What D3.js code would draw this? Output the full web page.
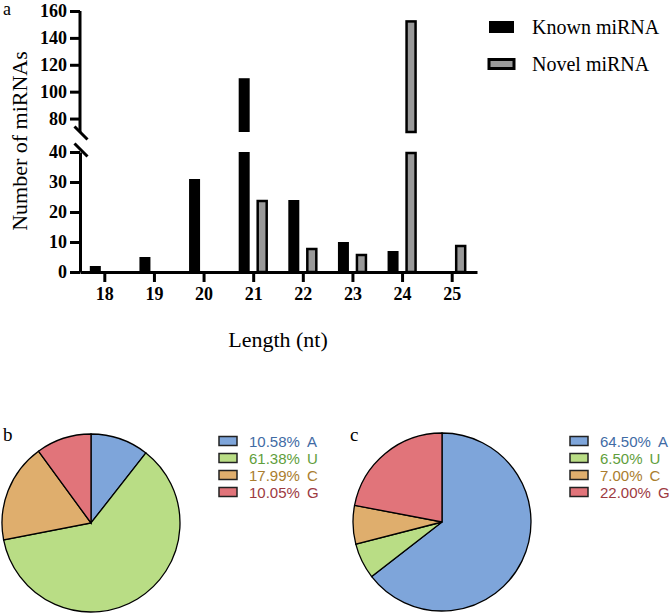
<!DOCTYPE html>
<html>
<head>
<meta charset="utf-8">
<script src="https://cdn.jsdelivr.net/npm/d3@7"></script>
<style>
  body { margin: 0; background: #fff; }
  svg { display: block; }
</style>
</head>
<body>
<div id="container"></div>
<script>
// chart data
var lengths = ["18", "19", "20", "21", "22", "23", "24", "25"];
var knownCounts = [2, 5, 31, 110, 24, 10, 7, 0];
var novelCounts = [0, 0, 0, 24, 8, 6, 153, 9];
var seriesNames = ["Known miRNA", "Novel miRNA"];

var upperTicks = [80, 100, 120, 140, 160];
var lowerTicks = [0, 10, 20, 30, 40];

var bases = ["A", "U", "C", "G"];
var knownBasePct = [10.58, 61.38, 17.99, 10.05];
var novelBasePct = [64.50, 6.50, 7.00, 22.00];

var pieFill = ["#7ea5da", "#b9dd85", "#dfae6d", "#e1747a"];
var textFill = ["#3f6ba5", "#5f9e3c", "#aa7d2e", "#9d3a3f"];

var W = 669, H = 615;
var svg = d3.select("#container").append("svg")
	.attr("width", W)
	.attr("height", H);

// ---------- panel a : bar chart with broken y axis ----------
var x = d3.scaleBand().domain(lengths).range([80, 477]).padding(0);
var yUp = d3.scaleLinear().domain([70, 160]).range([132, 11]);
var yLo = d3.scaleLinear().domain([0, 40]).range([272, 152]);
var breakLo = 40, breakHi = 70;

var serif = "'Liberation Serif', 'Times New Roman', serif";

var gA = svg.append("g");

// bars
function barPieces(v) {
	if (v <= breakLo) return [[yLo(v), yLo(0)]];
	return [[yUp(v), yUp(breakHi)], [yLo(breakLo), yLo(0)]];
}

lengths.forEach(function(l, i) {
	var cx = x(l) + x.bandwidth() / 2;
	barPieces(knownCounts[i]).forEach(function(p) {
		if (knownCounts[i] <= 0) return;
		gA.append("rect")
			.attr("x", cx - 15)
			.attr("y", p[0])
			.attr("width", 11)
			.attr("height", p[1] - p[0])
			.attr("fill", "#000");
	});
	barPieces(novelCounts[i]).forEach(function(p) {
		if (novelCounts[i] <= 0) return;
		gA.append("rect")
			.attr("x", cx + 4)
			.attr("y", p[0] + 1)
			.attr("width", 9)
			.attr("height", p[1] - p[0] - 1)
			.attr("fill", "#999")
			.attr("stroke", "#000")
			.attr("stroke-width", 2.5);
	});
});

// y axes
var axUp = gA.append("g")
	.attr("transform", "translate(80,0)")
	.call(d3.axisLeft(yUp).tickValues(upperTicks).tickSize(10).tickSizeOuter(0).tickPadding(3));
var axLo = gA.append("g")
	.attr("transform", "translate(80,0)")
	.call(d3.axisLeft(yLo).tickValues(lowerTicks).tickSize(10).tickSizeOuter(0).tickPadding(3));

// x axis
var axX = gA.append("g")
	.attr("transform", "translate(0,272)")
	.call(d3.axisBottom(x).tickSize(10).tickSizeOuter(0).tickPadding(5));

[axUp, axLo, axX].forEach(function(a) {
	a.selectAll("path, line").attr("stroke", "#000").attr("stroke-width", 3);
	a.selectAll("text")
		.attr("fill", "#000")
		.style("font-family", serif)
		.style("font-weight", "bold")
		.style("font-size", "18px");
});
axUp.select(".domain").attr("d", "M0," + yUp(160) + "V" + yUp(breakHi));

// break marks
[yUp(breakHi) + 1, yLo(breakLo) - 2].forEach(function(yy) {
	gA.append("line")
		.attr("x1", 74.5).attr("y1", yy - 6.5)
		.attr("x2", 87.5).attr("y2", yy + 6.5)
		.attr("stroke", "#000")
		.attr("stroke-width", 3);
});

// axis titles
gA.append("text")
	.attr("transform", "translate(27,141) rotate(-90)")
	.attr("text-anchor", "middle")
	.style("font-family", serif)
	.style("font-size", "22px")
	.text("Number of miRNAs");

gA.append("text")
	.attr("x", 278)
	.attr("y", 347)
	.attr("text-anchor", "middle")
	.style("font-family", serif)
	.style("font-size", "22px")
	.text("Length (nt)");

gA.append("text")
	.attr("x", 3)
	.attr("y", 15)
	.style("font-family", serif)
	.style("font-size", "18px")
	.text("a");

// legend a
var legA = gA.selectAll(".legA").data(seriesNames).enter()
	.append("g")
	.attr("class", "legA")
	.attr("transform", function(d, i) { return "translate(489," + (21 + i * 37) + ")"; });
legA.append("rect")
	.attr("width", 25)
	.attr("height", function(d, i) { return i === 0 ? 12 : 9; })
	.attr("y", function(d, i) { return i === 0 ? 0 : 1.5; })
	.attr("fill", function(d, i) { return i === 0 ? "#000" : "#999"; })
	.attr("stroke", "#000")
	.attr("stroke-width", function(d, i) { return i === 0 ? 0 : 3; });
legA.append("text")
	.attr("x", 43)
	.attr("y", 13)
	.style("font-family", serif)
	.style("font-size", "20px")
	.text(function(d) { return d; });

// ---------- panels b and c : pies ----------
var pie = d3.pie().sort(null).value(function(d) { return d; });
var arc = d3.arc().innerRadius(0).outerRadius(89);

function drawPie(values, cx, cy, letter, letterX, legX) {
	var g = svg.append("g").attr("transform", "translate(" + cx + "," + cy + ")");
	g.selectAll("path").data(pie(values)).enter()
		.append("path")
		.attr("d", arc)
		.attr("fill", function(d, i) { return pieFill[i]; })
		.attr("stroke", "#000")
		.attr("stroke-width", 1.3);

	svg.append("text")
		.attr("x", letterX)
		.attr("y", 441)
		.style("font-family", serif)
		.style("font-size", "19px")
		.text(letter);

	var leg = svg.selectAll(".leg" + letter).data(values).enter()
		.append("g")
		.attr("class", "leg" + letter)
		.attr("transform", function(d, i) { return "translate(" + legX + "," + (441 + i * 17) + ")"; });
	leg.append("rect")
		.attr("x", 0)
		.attr("y", -4.5)
		.attr("width", 18)
		.attr("height", 9)
		.attr("fill", function(d, i) { return pieFill[i]; })
		.attr("stroke", "#222")
		.attr("stroke-width", 1.5);
	var t = leg.append("text")
		.attr("x", 30)
		.attr("y", 5.5)
		.attr("fill", function(d, i) { return textFill[i]; })
		.style("font-family", "'Liberation Sans', Arial, sans-serif")
		.style("font-size", "15px");
	t.append("tspan").text(function(d) { return d.toFixed(2) + "%"; });
	t.append("tspan").attr("dx", 7).text(function(d, i) { return bases[i]; });
}

drawPie(knownBasePct, 91, 523, "b", 3, 219);
drawPie(novelBasePct, 442, 522, "c", 350, 570);
</script>
</body>
</html>
